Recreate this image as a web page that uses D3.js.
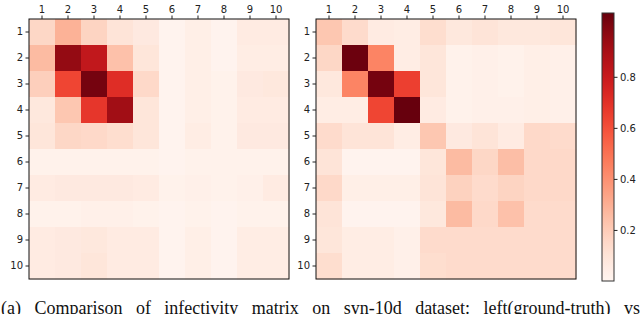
<!DOCTYPE html>
<html>
<head>
<meta charset="utf-8">
<script src="https://cdn.jsdelivr.net/npm/d3@7"></script>
<style>
  body { margin: 0; background: #fff; }
  svg { display: block; }
  .axis text { font-family: "DejaVu Sans", sans-serif; font-size: 10px; fill: #222; }
  .axis path { display: none; }
  .axis line { stroke: #222; }
  .caption { font-family: "Liberation Serif", serif; font-size: 18px; fill: #111; }
</style>
</head>
<body>
<svg width="640" height="314"></svg>
<script>
var labels = ["1", "2", "3", "4", "5", "6", "7", "8", "9", "10"]

// ground truth (left)
var truthMatrix = [
  [0.16, 0.29, 0.17, 0.10, 0.07, 0.01, 0.04, 0.01, 0.06, 0.06],
  [0.26, 0.95, 0.82, 0.24, 0.09, 0.01, 0.04, 0.01, 0.05, 0.05],
  [0.19, 0.63, 1.02, 0.71, 0.15, 0.01, 0.04, 0.02, 0.07, 0.08],
  [0.08, 0.22, 0.68, 0.92, 0.09, 0.01, 0.04, 0.02, 0.06, 0.06],
  [0.09, 0.16, 0.15, 0.13, 0.09, 0.01, 0.05, 0.02, 0.07, 0.07],
  [0.02, 0.02, 0.02, 0.02, 0.02, 0.01, 0.02, 0.02, 0.02, 0.02],
  [0.06, 0.07, 0.07, 0.07, 0.06, 0.02, 0.03, 0.02, 0.03, 0.06],
  [0.02, 0.02, 0.03, 0.03, 0.02, 0.01, 0.02, 0.01, 0.02, 0.02],
  [0.06, 0.07, 0.08, 0.06, 0.06, 0.01, 0.04, 0.01, 0.05, 0.05],
  [0.06, 0.07, 0.09, 0.06, 0.06, 0.01, 0.04, 0.01, 0.05, 0.05]
]

// learned (right)
var learnedMatrix = [
  [0.22, 0.14, 0.06, 0.05, 0.13, 0.08, 0.10, 0.08, 0.08, 0.09],
  [0.16, 1.04, 0.44, 0.05, 0.09, 0.02, 0.03, 0.02, 0.04, 0.03],
  [0.08, 0.44, 1.02, 0.65, 0.09, 0.02, 0.03, 0.02, 0.04, 0.03],
  [0.05, 0.05, 0.63, 1.05, 0.06, 0.02, 0.03, 0.03, 0.04, 0.03],
  [0.14, 0.10, 0.10, 0.05, 0.22, 0.07, 0.10, 0.06, 0.15, 0.14],
  [0.10, 0.01, 0.01, 0.01, 0.09, 0.26, 0.16, 0.25, 0.15, 0.15],
  [0.15, 0.04, 0.04, 0.04, 0.10, 0.18, 0.14, 0.17, 0.15, 0.15],
  [0.10, 0.01, 0.01, 0.01, 0.08, 0.26, 0.15, 0.24, 0.14, 0.14],
  [0.09, 0.05, 0.05, 0.03, 0.14, 0.14, 0.14, 0.14, 0.14, 0.14],
  [0.13, 0.05, 0.05, 0.03, 0.13, 0.14, 0.14, 0.14, 0.14, 0.14]
]

var colorDomain = [0, 1.05]
var colorTicks = [0.2, 0.4, 0.6, 0.8]
var captionWords = ["(a)", "Comparison", "of", "infectivity", "matrix", "on", "syn-10d", "dataset:", "left(ground-truth)", "vs"]

var svg = d3.select("svg")
var color = d3.scaleSequential(d3.interpolateReds).domain(colorDomain)

function drawMatrix(data, left, top, size, id) {
  var g = svg.append("g").attr("id", id).attr("transform", `translate(${left},${top})`)
  var x = d3.scaleBand().domain(labels).range([0, size])
  var y = d3.scaleBand().domain(labels).range([0, size])

  var cells = []
  data.forEach((row, i) => row.forEach((v, j) => cells.push({ r: labels[i], c: labels[j], v: v })))

  g.selectAll("rect.cell")
    .data(cells)
    .enter()
    .append("rect").attr("class", "cell")
    .attr("x", d => x(d.c))
    .attr("y", d => y(d.r))
    .attr("width", x.bandwidth() + 0.5)
    .attr("height", y.bandwidth() + 0.5)
    .style("fill", d => color(d.v))

  g.append("rect")
    .attr("width", size).attr("height", size)
    .style("fill", "none").style("stroke", "#111").style("stroke-width", 1)

  g.append("g").attr("class", "axis")
    .call(d3.axisTop(x).tickSize(3.5).tickPadding(2.5))
  g.append("g").attr("class", "axis")
    .call(d3.axisLeft(y).tickSize(3.5).tickPadding(2.5))
}

drawMatrix(truthMatrix, 29, 19, 260, "leftMatrix")
drawMatrix(learnedMatrix, 316, 19, 260, "rightMatrix")

// colorbar
var cbX = 602, cbTop = 13, cbBottom = 281, cbW = 12
var grad = svg.append("defs").append("linearGradient").attr("id", "cbGrad")
  .attr("x1", 0).attr("y1", 1).attr("x2", 0).attr("y2", 0)
grad.selectAll("stop")
  .data(d3.range(0, 1.001, 0.05))
  .enter()
  .append("stop")
  .attr("offset", d => d)
  .attr("stop-color", d => d3.interpolateReds(d))

svg.append("rect")
  .attr("x", cbX).attr("y", cbTop).attr("width", cbW).attr("height", cbBottom - cbTop)
  .style("fill", "url(#cbGrad)").style("stroke", "#333").style("stroke-width", 1)

var cbScale = d3.scaleLinear().domain(colorDomain).range([cbBottom, cbTop])
svg.append("g").attr("class", "axis")
  .attr("transform", `translate(${cbX + cbW},0)`)
  .call(d3.axisRight(cbScale).tickValues(colorTicks).tickFormat(d3.format(".1f")).tickSize(3.5).tickPadding(2.5))

// caption, justified across the full width
var cap = svg.append("g")
var words = cap.selectAll("text")
  .data(captionWords)
  .enter()
  .append("text").attr("class", "caption")
  .attr("y", 314)
  .text(d => d)

var widths = []
words.each(function () { widths.push(this.getComputedTextLength()) })
var total = d3.sum(widths)
var gap = (640 - 1 - total) / (captionWords.length - 1)
var pos = 1
words.attr("x", (d, i) => {
  var p = pos
  pos += widths[i] + gap
  return p
})
</script>
</body>
</html>
